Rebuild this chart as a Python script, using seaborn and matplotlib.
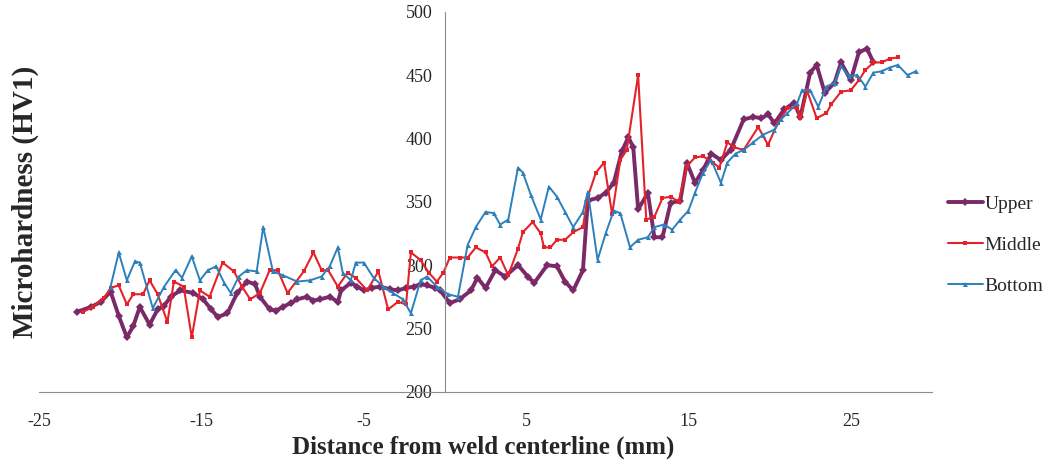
import matplotlib
matplotlib.use("Agg")
import matplotlib.pyplot as plt
import seaborn as sns

# readings taken off the reference chart
upper_x = [-22.7, -21.8, -21.2, -20.6, -20.1, -19.6, -19.2, -18.8, -18.2, -17.7, -17.3, -16.9,
           -16.3, -15.5, -14.9, -14.4, -14.0, -13.4, -12.8, -12.2, -11.7, -11.4, -10.8, -10.4,
           -10.0, -9.5, -9.1, -8.5, -8.1, -7.7, -7.1, -6.6, -6.4, -5.8, -5.4, -5.0, -4.5, -4.0,
           -3.4, -2.9, -2.4, -1.9, -1.5, -1.1, -0.6, -0.3, 0.3, 0.9, 1.6, 2.0, 2.5, 3.1, 3.7,
           4.5, 5.1, 5.5, 6.3, 6.9, 7.4, 7.9, 8.5, 8.8, 9.4, 9.9, 10.4, 10.9, 11.3, 11.6, 11.9,
           12.5, 12.9, 13.4, 13.9, 14.5, 14.9, 15.4, 15.9, 16.4, 17.0, 17.6, 18.4, 19.0, 19.5,
           19.9, 20.3, 20.9, 21.5, 21.9, 22.5, 22.9, 23.4, 24.0, 24.4, 25.0, 25.5, 26.0, 26.4]
upper_y = [263, 267, 271, 279, 260, 243, 252, 267, 253, 265, 268, 275,
           280, 278, 273, 265, 259, 262, 278, 287, 285, 275, 265, 264,
           267, 270, 273, 275, 272, 273, 275, 271, 280, 286, 283, 280, 282, 283,
           281, 280, 282, 283, 285, 284, 282, 280, 270, 273, 280, 290, 282, 296, 291,
           300, 291, 286, 300, 299, 287, 280, 296, 351, 353, 357, 365, 390, 401, 393, 344,
           357, 322, 322, 349, 351, 381, 365, 375, 388, 383, 391, 415, 417, 416,
           419, 412, 423, 428, 417, 452, 458, 436, 444, 460, 446, 468, 471, 460]

middle_x = [-22.3, -21.7, -21.0, -20.6, -20.1, -19.6, -19.2, -18.6, -18.2, -17.7, -17.1, -16.7,
            -16.1, -15.6, -15.1, -14.5, -13.7, -13.0, -12.5, -12.0, -11.4, -10.8, -10.3, -9.7,
            -8.7, -8.1, -7.6, -7.2, -6.6, -6.0, -5.5, -4.8, -4.1, -3.5, -2.9, -2.4, -2.1, -1.5,
            -1.0, -0.5, -0.1, 0.3, 0.9, 1.4, 1.9, 2.5, 2.9, 3.4, 3.9, 4.5, 4.8, 5.4, 5.9, 6.1,
            6.5, 6.9, 7.4, 7.9, 8.5, 8.8, 9.3, 9.8, 10.3, 10.8, 11.2, 11.9, 12.4, 12.9, 13.4,
            13.9, 14.4, 14.9, 15.4, 15.9, 16.5, 16.9, 17.4, 17.8, 18.4, 19.3, 19.9, 20.5, 21.1,
            21.7, 21.9, 22.3, 22.9, 23.5, 23.8, 24.4, 25.0, 25.5, 25.9, 26.4, 26.9, 27.4, 27.9]
middle_y = [263, 267, 274, 282, 284, 269, 277, 277, 288, 277, 255, 287,
            283, 243, 280, 275, 302, 295, 283, 273, 278, 296, 296, 278,
            295, 310, 296, 296, 283, 294, 290, 280, 295, 265, 271, 269, 310, 304,
            294, 287, 294, 306, 306, 306, 314, 310, 299, 306, 292, 313, 326, 334, 325, 314,
            314, 320, 320, 326, 330, 354, 373, 381, 340, 383, 391, 450, 336, 338, 353,
            354, 350, 378, 385, 386, 381, 377, 397, 393, 391, 409, 395, 412, 424,
            424, 416, 438, 416, 420, 427, 437, 438, 446, 454, 460, 460, 463, 464]

bottom_x = [-20.6, -20.1, -19.6, -19.1, -18.8, -18.0, -17.3, -16.6, -16.2, -15.6, -15.1, -14.6,
            -14.1, -13.6, -13.2, -12.7, -12.2, -11.6, -11.2, -10.6, -10.0, -9.1, -8.3, -7.6,
            -7.1, -6.6, -6.3, -5.8, -5.5, -5.0, -4.4, -3.8, -3.2, -2.6, -2.1, -1.5, -1.1, -0.5,
            0.2, 0.8, 1.4, 1.9, 2.5, 3.0, 3.4, 3.9, 4.5, 4.8, 5.3, 5.9, 6.4, 6.9, 7.4, 7.9,
            8.5, 8.8, 9.4, 9.9, 10.4, 10.8, 11.4, 11.9, 12.5, 12.9, 13.5, 14.0, 14.5, 15.0,
            15.4, 15.9, 16.4, 17.0, 17.4, 17.9, 18.4, 19.0, 19.6, 20.3, 20.7, 21.1, 21.7, 22.0,
            22.5, 23.0, 23.5, 24.0, 24.4, 24.9, 25.4, 25.9, 26.4, 26.9, 27.4, 27.9, 28.5, 29.0]
bottom_y = [283, 310, 288, 303, 302, 266, 283, 296, 290, 307, 288, 296,
            299, 286, 278, 291, 296, 295, 330, 295, 292, 287, 288, 291,
            299, 314, 294, 288, 302, 302, 290, 283, 278, 273, 262, 288, 291, 283,
            277, 275, 316, 330, 342, 341, 332, 336, 377, 373, 355, 336, 362, 354, 342, 330,
            342, 358, 304, 325, 343, 341, 314, 320, 322, 330, 332, 328, 336, 343,
            357, 373, 383, 365, 381, 388, 391, 397, 403, 407, 415, 420, 428, 438,
            438, 425, 441, 444, 457, 449, 450, 441, 452, 453, 456, 458, 450, 453]

x_ticks = [-25, -15, -5, 5, 15, 25]
y_ticks = [200, 250, 300, 350, 400, 450, 500]

sns.set_style("white")
plt.rcParams["font.family"] = ["Liberation Serif", "DejaVu Serif"]
plt.rcParams["axes.unicode_minus"] = False

fig = plt.figure(figsize=(10.59, 4.72), dpi=100)
ax = fig.add_axes([0.037, 0.17, 0.843, 0.805])

sns.lineplot(x=upper_x, y=upper_y, ax=ax, sort=False, color="#7a2a68", lw=2.8,
             marker="D", markersize=3.8, markeredgewidth=0, label="Upper")
sns.lineplot(x=middle_x, y=middle_y, ax=ax, sort=False, color="#e5222a", lw=1.5,
             marker="s", markersize=3.4, markeredgewidth=0, label="Middle")
sns.lineplot(x=bottom_x, y=bottom_y, ax=ax, sort=False, color="#2d80bb", lw=1.4,
             marker="^", markersize=3.6, markeredgewidth=0, label="Bottom")

ax.set_xlim(-25, 30)
ax.set_ylim(200, 500)
ax.set_xticks(x_ticks)
ax.set_yticks(y_ticks)

for s in ["top", "right"]:
    ax.spines[s].set_visible(False)
ax.spines["left"].set_position(("data", 0))
ax.spines["left"].set_color("#8c8c8c")
ax.spines["bottom"].set_color("#8c8c8c")
ax.tick_params(axis="x", direction="out", length=5, color="#8c8c8c", pad=10, labelsize=13)
ax.tick_params(axis="y", direction="out", length=5, color="#8c8c8c", pad=4, labelsize=13)

ax.set_xlabel("Distance from weld centerline (mm)", fontsize=18, fontweight="bold")
ax.set_ylabel("Microhardness (HV1)", fontsize=21, fontweight="bold")
ax.xaxis.set_label_coords(0.497, -0.115)
ax.yaxis.set_label_coords(0.0, 0.5)

ax.legend(loc="center left", bbox_to_anchor=(0.895, 0.481), bbox_transform=fig.transFigure,
          frameon=False, fontsize=14, handlelength=1.8, handletextpad=0.1, labelspacing=1.2,
          borderpad=0, borderaxespad=0)

fig.savefig("out.png", dpi=100)
